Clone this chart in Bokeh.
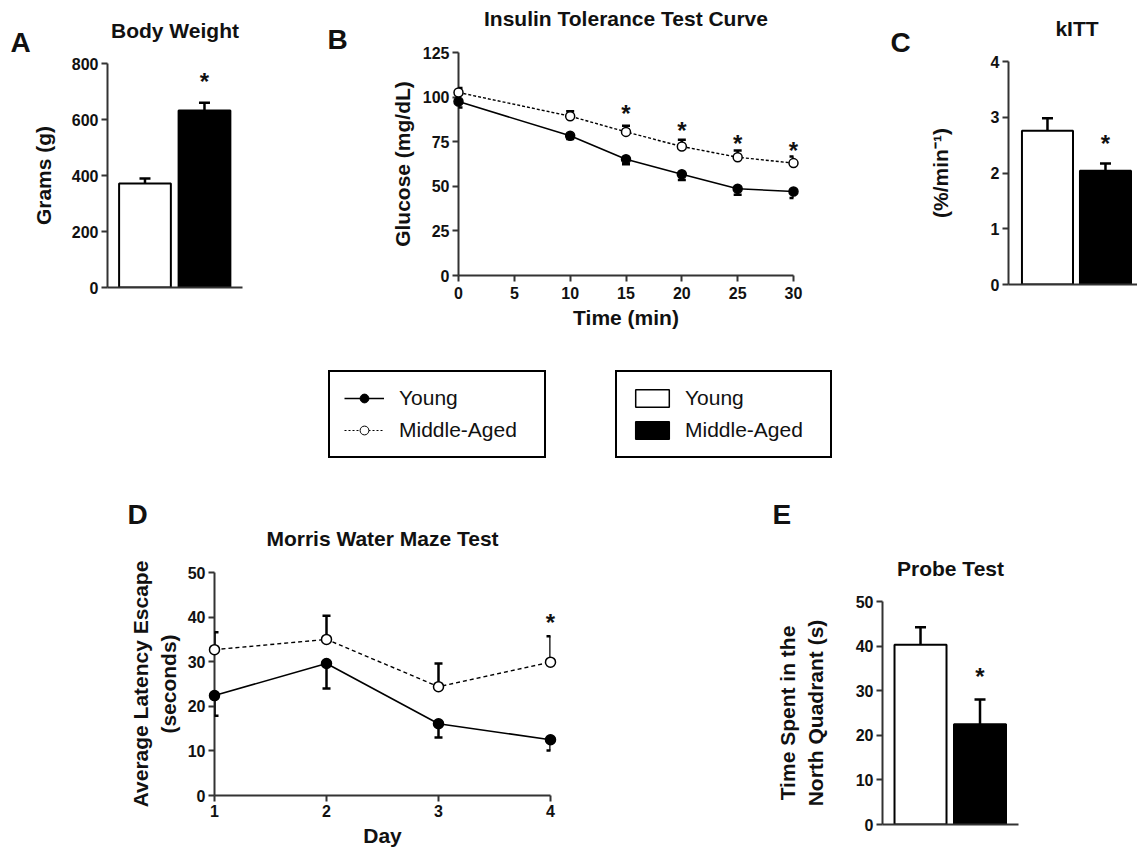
from bokeh.plotting import figure
from bokeh.models import (Range1d, FixedTicker, ColumnDataSource, Whisker, TeeHead,
                          Legend, LegendItem)
from bokeh.layouts import column, row
from bokeh.core.properties import value
from bokeh.embed import file_html
from bokeh.resources import INLINE

# ---------------- data ----------------
groups = ["Young", "Middle-Aged"]
group_fill = ["white", "black"]

body_weight = [371, 632]
body_weight_err = [18, 28]
body_weight_sig = [746]
body_weight_ticks = [0, 200, 400, 600, 800]

itt_time = [0, 10, 15, 20, 25, 30]
itt_young = [97.5, 78.3, 65.2, 56.8, 48.6, 47.1]
itt_young_err = [3.3, 1.8, 2.8, 3.3, 3.4, 3.6]
itt_mid = [102.6, 89.3, 80.5, 72.3, 66.3, 63.0]
itt_mid_err = [2.5, 2.7, 3.5, 3.8, 3.7, 3.7]
itt_sig_x = [15, 20, 25, 30]
itt_sig_y = [92.3, 83.0, 75.7, 71.7]
itt_xticks = [0, 5, 10, 15, 20, 25, 30]
itt_yticks = [0, 25, 50, 75, 100, 125]

kitt = [2.76, 2.04]
kitt_err = [0.22, 0.13]
kitt_sig = [2.58]
kitt_ticks = [0, 1, 2, 3, 4]

days = [1, 2, 3, 4]
mwm_young = [22.4, 29.6, 16.1, 12.5]
mwm_young_err = [4.5, 5.6, 3.1, 2.4]
mwm_mid = [32.7, 35.0, 24.4, 29.9]
mwm_mid_err = [3.9, 5.3, 5.2, 5.8]
mwm_sig_x = [4]
mwm_sig_y = [39.5]
mwm_yticks = [0, 10, 20, 30, 40, 50]

probe = [40.3, 22.5]
probe_err = [3.9, 5.5]
probe_sig = [33.9]
probe_ticks = [0, 10, 20, 30, 40, 50]

FONT = "Liberation Sans"
INK = "#111111"
AX = "#333333"


def make_fig(w, h, left, right, top, bottom, xr, yr):
    p = figure(width=w, height=h, x_range=xr, y_range=yr, output_backend="svg",
               toolbar_location=None, min_border_left=left, min_border_right=right,
               min_border_top=top, min_border_bottom=bottom, title=None)
    p.outline_line_color = None
    p.xgrid.visible = False
    p.ygrid.visible = False
    for ax in (p.xaxis[0], p.yaxis[0]):
        ax.axis_line_width = 2
        ax.axis_line_color = AX
        ax.major_tick_line_width = 2
        ax.major_tick_line_color = AX
        ax.major_tick_out = 6
        ax.major_tick_in = 0
        ax.minor_tick_line_color = None
        ax.major_label_text_font = FONT
        ax.major_label_text_font_style = "bold"
        ax.major_label_text_font_size = "16px"
        ax.major_label_text_color = INK
        ax.major_label_standoff = 3
        ax.axis_label_text_font = FONT
        ax.axis_label_text_font_style = "bold"
        ax.axis_label_text_font_size = "21px"
        ax.axis_label_text_color = INK
    return p


def letter(p, txt, dx, dy):
    # panel letter, anchored at the frame's top-left corner, shifted in screen pixels
    p.text(x=[p.x_range.start], y=[p.y_range.end], text=[txt], x_offset=dx, y_offset=dy,
           text_font=value(FONT), text_font_style="bold", text_font_size="28px",
           text_color=INK, text_baseline="alphabetic", text_align="left", level="overlay")


def heading(p, txt, dy, dx=0):
    # panel title, centred over the frame, shifted up in screen pixels
    xm = (p.x_range.start + p.x_range.end) / 2
    p.text(x=[xm], y=[p.y_range.end], text=[txt], x_offset=dx, y_offset=dy,
           text_font=value(FONT), text_font_style="bold", text_font_size="21px",
           text_color=INK, text_baseline="middle", text_align="center", level="overlay")


def star(p, xs, ys):
    p.text(x=xs, y=ys, text=["*"] * len(xs), text_align="center", text_baseline="middle",
           y_offset=3, text_font=value(FONT), text_font_style="bold",
           text_font_size="24px", text_color=INK, level="overlay")


def bar_panel(p, vals, errs, width):
    xs = list(range(1, len(vals) + 1))
    src = ColumnDataSource(dict(x=xs, top=vals, fill=group_fill,
                                upper=[v + e for v, e in zip(vals, errs)]))
    p.vbar(x="x", top="top", width=width, source=src, fill_color="fill",
           line_color="black", line_width=2)
    p.add_layout(Whisker(base="x", lower="top", upper="upper", source=src,
                         line_width=2.5, line_color="black", level="annotation",
                         upper_head=TeeHead(size=11, line_width=2.5, line_color="black"),
                         lower_head=None))
    p.xaxis[0].ticker = FixedTicker(ticks=[])
    p.xaxis[0].major_tick_line_color = None
    return xs


def line_panel(p, xs, young, young_err, mid, mid_err, dash, msize, head):
    ys = ColumnDataSource(dict(x=xs, y=young, lo=[v - e for v, e in zip(young, young_err)]))
    ms = ColumnDataSource(dict(x=xs, y=mid, hi=[v + e for v, e in zip(mid, mid_err)]))
    p.add_layout(Whisker(base="x", lower="lo", upper="y", source=ys, line_width=2.5,
                         line_color="black", level="annotation", upper_head=None,
                         lower_head=TeeHead(size=head, line_width=2.5, line_color="black")))
    p.add_layout(Whisker(base="x", lower="y", upper="hi", source=ms, line_width=2.5,
                         line_color="black", level="annotation", lower_head=None,
                         upper_head=TeeHead(size=head, line_width=2.5, line_color="black")))
    p.line("x", "y", source=ys, line_color="black", line_width=1.6, level="overlay")
    p.line("x", "y", source=ms, line_color="black", line_width=1.4, line_dash=dash,
           level="overlay")
    p.scatter("x", "y", source=ys, marker="circle", size=msize, fill_color="black",
              line_color="black", line_width=1.5, level="overlay")
    p.scatter("x", "y", source=ms, marker="circle", size=msize, fill_color="white",
              line_color="black", line_width=1.5, level="overlay")


# ---------------- Panel A ----------------
pA = make_fig(300, 346, 107, 58, 63, 59, Range1d(0.370, 2.639), Range1d(0, 800))
bar_panel(pA, body_weight, body_weight_err, 0.87)
pA.yaxis[0].ticker = FixedTicker(ticks=body_weight_ticks)
pA.yaxis[0].axis_label = "Grams (g)"
pA.yaxis[0].axis_label_standoff = 14
star(pA, [2], body_weight_sig)
heading(pA, "Body Weight", -33)
letter(pA, "A", -97, -21)

# ---------------- Panel B ----------------
pB = make_fig(570, 346, 158, 77, 52, 71, Range1d(0, 30), Range1d(0, 125))
line_panel(pB, itt_time, itt_young, itt_young_err, itt_mid, itt_mid_err, "3 2", 9, 8)
pB.xaxis[0].ticker = FixedTicker(ticks=itt_xticks)
pB.yaxis[0].ticker = FixedTicker(ticks=itt_yticks)
pB.xaxis[0].axis_label = "Time (min)"
pB.yaxis[0].axis_label = "Glucose (mg/dL)"
pB.xaxis[0].major_label_standoff = 5
pB.xaxis[0].axis_label_standoff = 4
pB.yaxis[0].axis_label_standoff = 6
star(pB, itt_sig_x, itt_sig_y)
heading(pB, "Insulin Tolerance Test Curve", -34)
letter(pB, "B", -131, -13)

# ---------------- Panel C ----------------
pC = make_fig(267, 346, 138, 0, 61, 62, Range1d(0.328, 2.552), Range1d(0, 4))
bar_panel(pC, kitt, kitt_err, 0.88)
pC.yaxis[0].ticker = FixedTicker(ticks=kitt_ticks)
pC.yaxis[0].axis_label = "(%/min\u207b\u00b9)"
pC.yaxis[0].axis_label_standoff = 36
star(pC, [2], kitt_sig)
heading(pC, "kITT", -33, 4)
letter(pC, "C", -118, -19)

# ---------------- Legends ----------------
pL = figure(width=1137, height=130, x_range=Range1d(0, 1), y_range=Range1d(0, 1),
            output_backend="svg", toolbar_location=None, min_border=0,
            x_axis_location=None, y_axis_location=None)
pL.outline_line_color = None
pL.xgrid.visible = False
pL.ygrid.visible = False
nan = [float("nan")]
ly_line = pL.line(nan, nan, line_color="black", line_width=1.6)
ly_pt = pL.scatter(nan, nan, marker="circle", size=9, fill_color="black", line_color="black")
lm_line = pL.line(nan, nan, line_color="black", line_width=1.2, line_dash="2 2")
lm_pt = pL.scatter(nan, nan, marker="circle", size=8, fill_color="white", line_color="black")
lb_y = pL.vbar(x=nan, top=nan, width=1, fill_color="white", line_color="black", line_width=1.5)
lb_m = pL.vbar(x=nan, top=nan, width=1, fill_color="black", line_color="black", line_width=1.5)


def legend(items, loc, gw, gh, standoff, lw):
    lg = Legend(items=items, location=loc, orientation="vertical", padding=14, spacing=8,
                margin=0, glyph_width=gw, glyph_height=gh, label_standoff=standoff,
                label_width=lw, label_height=22, label_text_font=FONT,
                label_text_font_size="21px", label_text_color=INK,
                border_line_color="black", border_line_width=2, border_line_alpha=1,
                background_fill_color="white", background_fill_alpha=1)
    pL.add_layout(lg)


legend([LegendItem(label=groups[0], renderers=[ly_line, ly_pt]),
        LegendItem(label=groups[1], renderers=[lm_line, lm_pt])],
       (328, 18), 40, 22, 15, 131)
legend([LegendItem(label=groups[0], renderers=[lb_y]),
        LegendItem(label=groups[1], renderers=[lb_m])],
       (615, 18), 42, 22, 12, 131)

# ---------------- Panel D ----------------
pD = make_fig(700, 376, 214, 150, 96, 57, Range1d(1, 4), Range1d(0, 50))
line_panel(pD, days, mwm_young, mwm_young_err, mwm_mid, mwm_mid_err, "4 3", 10, 8)
pD.xaxis[0].ticker = FixedTicker(ticks=days)
pD.yaxis[0].ticker = FixedTicker(ticks=mwm_yticks)
pD.xaxis[0].axis_label = "Day"
pD.yaxis[0].axis_label = "Average Latency Escape\n(seconds)"
pD.xaxis[0].axis_label_standoff = 4
pD.yaxis[0].axis_label_standoff = 5
star(pD, mwm_sig_x, mwm_sig_y)
heading(pD, "Morris Water Maze Test", -34)
letter(pD, "D", -87, -58)

# ---------------- Panel E ----------------
pE = make_fig(437, 376, 182, 119, 125, 28, Range1d(0.361, 2.647), Range1d(0, 50))
bar_panel(pE, probe, probe_err, 0.874)
pE.yaxis[0].ticker = FixedTicker(ticks=probe_ticks)
pE.yaxis[0].axis_label = "Time Spent in the\nNorth Quadrant (s)"
pE.yaxis[0].axis_label_standoff = 26
star(pE, [2], probe_sig)
heading(pE, "Probe Test", -33)
letter(pE, "E", -110, -87)

layout = column(row(column(pA), column(pB), column(pC)), pL, row(column(pD), column(pE)))
open("out.html", "w").write(file_html(layout, INLINE))
